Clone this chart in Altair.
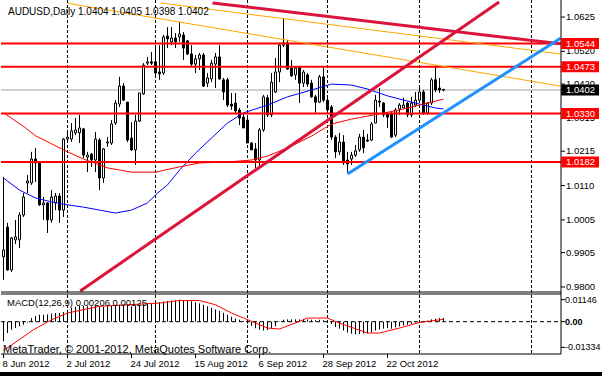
import altair as alt
import pandas as pd

FONT = "Liberation Sans"

# ---------------- price data (daily candles) ----------------
opens = [0.9892,0.9983,0.9852,0.9944,0.9944,1.0020,1.0118,1.0118,1.0191,1.0179,
         1.0051,1.0057,1.0005,1.0057,1.0078,1.0035,1.0252,1.0252,1.0271,1.0271,
         1.0283,1.0197,1.0206,1.0188,1.0249,1.0133,1.0240,1.0240,1.0301,1.0359,
         1.0414,1.0365,1.0255,1.0219,1.0307,1.0390,1.0484,1.0488,1.0488,1.0457,
         1.0454,1.0567,1.0549,1.0561,1.0564,1.0570,1.0552,1.0512,1.0481,1.0497,
         1.0509,1.0423,1.0436,1.0481,1.0503,1.0433,1.0433,1.0359,1.0362,1.0341,
         1.0319,1.0310,1.0240,1.0222,1.0188,1.0280,1.0378,1.0326,1.0396,1.0457,
         1.0539,1.0546,1.0469,1.0448,1.0472,1.0423,1.0448,1.0423,1.0381,1.0365,
         1.0442,1.0371,1.0350,1.0258,1.0213,1.0243,1.0188,1.0191,1.0203,1.0219,
         1.0258,1.0249,1.0249,1.0301,1.0368,1.0362,1.0329,1.0329,1.0264,1.0344,
         1.0347,1.0362,1.0326,1.0356,1.0371,1.0396,1.0332,1.0362,1.0433,1.0408,
         1.0404]
closes = [0.9913,0.9852,0.9950,0.9953,1.0020,1.0075,1.0124,1.0191,1.0179,1.0051,
          1.0057,1.0005,1.0075,1.0078,1.0035,1.0252,1.0258,1.0277,1.0280,1.0286,
          1.0203,1.0203,1.0188,1.0252,1.0133,1.0222,1.0243,1.0298,1.0362,1.0414,
          1.0371,1.0249,1.0219,1.0307,1.0393,1.0478,1.0488,1.0484,1.0454,1.0451,
          1.0564,1.0558,1.0561,1.0549,1.0573,1.0530,1.0512,1.0481,1.0497,1.0509,
          1.0414,1.0439,1.0484,1.0503,1.0436,1.0396,1.0356,1.0353,1.0338,1.0316,
          1.0286,1.0240,1.0219,1.0188,1.0280,1.0381,1.0326,1.0426,1.0457,1.0539,
          1.0546,1.0466,1.0445,1.0469,1.0423,1.0457,1.0420,1.0381,1.0365,1.0442,
          1.0371,1.0341,1.0258,1.0213,1.0243,1.0179,1.0176,1.0203,1.0216,1.0258,
          1.0225,1.0246,1.0298,1.0371,1.0365,1.0326,1.0319,1.0258,1.0341,1.0356,
          1.0356,1.0326,1.0362,1.0371,1.0396,1.0332,1.0362,1.0433,1.0402,1.0402,
          1.0402]
highs = [1.0136,0.9996,0.9953,1.0005,1.0029,1.0087,1.0142,1.0213,1.0225,1.0182,
         1.0075,1.0057,1.0096,1.0087,1.0087,1.0255,1.0280,1.0301,1.0316,1.0326,
         1.0286,1.0213,1.0209,1.0274,1.0255,1.0225,1.0258,1.0310,1.0371,1.0442,
         1.0423,1.0365,1.0304,1.0326,1.0393,1.0484,1.0503,1.0518,1.0533,1.0539,
         1.0570,1.0594,1.0594,1.0576,1.0610,1.0579,1.0555,1.0539,1.0509,1.0515,
         1.0515,1.0454,1.0494,1.0515,1.0539,1.0439,1.0439,1.0393,1.0393,1.0347,
         1.0332,1.0319,1.0243,1.0240,1.0286,1.0387,1.0387,1.0454,1.0500,1.0546,
         1.0622,1.0555,1.0494,1.0472,1.0472,1.0463,1.0454,1.0433,1.0387,1.0448,
         1.0469,1.0378,1.0356,1.0264,1.0271,1.0264,1.0213,1.0213,1.0234,1.0268,
         1.0280,1.0268,1.0304,1.0387,1.0408,1.0365,1.0335,1.0335,1.0347,1.0362,
         1.0378,1.0365,1.0381,1.0396,1.0417,1.0402,1.0365,1.0439,1.0478,1.0439,
         1.0405]
lows = [0.9822,0.9850,0.9846,0.9931,0.9919,1.0014,1.0087,1.0112,1.0121,1.0048,
        1.0005,0.9965,0.9996,1.0035,0.9996,1.0014,1.0249,1.0243,1.0264,1.0240,
        1.0194,1.0151,1.0167,1.0151,1.0096,1.0118,1.0228,1.0234,1.0295,1.0350,
        1.0368,1.0243,1.0216,1.0173,1.0304,1.0387,1.0478,1.0478,1.0442,1.0433,
        1.0448,1.0530,1.0539,1.0530,1.0549,1.0494,1.0509,1.0475,1.0454,1.0463,
        1.0411,1.0411,1.0426,1.0408,1.0433,1.0371,1.0350,1.0341,1.0332,1.0295,
        1.0286,1.0240,1.0219,1.0164,1.0164,1.0274,1.0319,1.0319,1.0393,1.0426,
        1.0533,1.0463,1.0442,1.0433,1.0362,1.0411,1.0411,1.0378,1.0332,1.0362,
        1.0365,1.0332,1.0249,1.0194,1.0203,1.0173,1.0148,1.0173,1.0197,1.0213,
        1.0209,1.0243,1.0246,1.0301,1.0350,1.0319,1.0286,1.0255,1.0258,1.0326,
        1.0347,1.0319,1.0319,1.0350,1.0365,1.0326,1.0326,1.0356,1.0396,1.0393,
        1.0398]

# moving averages (bar index, value)
blue_ma_x = [0,4,8,12,16,20,24,28,32,36,38.5,41,44,48,52,56,60,66,71,77,82,87,91,96,102,108,110]
blue_ma_v = [1.0133,1.0096,1.0072,1.0060,1.0051,1.0044,1.0035,1.0026,1.0035,1.0057,1.0087,1.0112,
             1.0157,1.0209,1.0255,1.0301,1.0332,1.0356,1.0381,1.0402,1.0420,1.0417,1.0405,1.0384,
             1.0365,1.0347,1.0344]
red_ma_x = [0,2,5.5,8,16,20,26,32,38,44,49,56,62,66,71,77,82,87,94,99,107,110]
red_ma_v = [1.0332,1.0316,1.0286,1.0262,1.0213,1.0191,1.0164,1.0151,1.0151,1.0167,1.0179,1.0182,
            1.0188,1.0200,1.0225,1.0261,1.0298,1.0313,1.0329,1.0341,1.0365,1.0374]

red_levels = [1.0544, 1.0473, 1.0330, 1.0182]
bid_level = 1.0402

trend_names = ["crimson_down", "orange_a", "orange_b", "crimson_up", "blue_up"]
trend_x0 = [52.25, 39.25, 16.0, 19.2, 86.0]
trend_y0 = [1.0668, 1.0668, 1.0667, 0.9788, 1.0145]
trend_x1 = [139.25, 139.25, 139.25, 123.9, 139.25]
trend_y1 = [1.0543, 1.0512, 1.0414, 1.0671, 1.0560]
trend_colors = ["#DC143C", "#FFA500", "#FFA500", "#DC143C", "#1E90FF"]
trend_widths = [3, 1, 1, 3, 3]

price_ticks = [0.9800, 0.9905, 1.0005, 1.0110, 1.0215, 1.0315, 1.0420, 1.0520, 1.0625]
box_levels = [1.0544, 1.0473, 1.0402, 1.0330, 1.0182]
box_colors = ["#FF0000", "#FF0000", "#000000", "#FF0000", "#FF0000"]

grid_bars = [16, 38, 61, 81, 104, 132]
date_pos = [0, 16, 32, 48, 64, 80, 96]
date_labels = ["8 Jun 2012", "2 Jul 2012", "24 Jul 2012", "15 Aug 2012",
               "6 Sep 2012", "28 Sep 2012", "22 Oct 2012"]

# ---------------- MACD ----------------
macd_hist = [-0.0102,-0.0059,-0.0042,-0.0033,-0.0024,-0.0016,-0.0004,0.0019,0.0030,0.0036,
             0.0036,0.0038,0.0042,0.0045,0.0045,0.0050,0.0062,0.0072,0.0078,0.0083,
             0.0083,0.0080,0.0080,0.0082,0.0078,0.0078,0.0080,0.0082,0.0085,0.0088,
             0.0088,0.0084,0.0080,0.0081,0.0085,0.0090,0.0094,0.0097,0.0099,0.0101,
             0.0105,0.0108,0.0110,0.0112,0.01146,0.0113,0.0110,0.0106,0.0101,0.0095,
             0.0088,0.0080,0.0072,0.0064,0.0056,0.0046,0.0036,0.0026,0.0016,0.0010,
             0.0004,-0.0010,-0.0022,-0.0034,-0.0042,-0.0046,-0.0044,-0.0036,-0.0024,0.0002,
             0.0010,0.0012,0.0012,0.0012,0.0012,0.0014,0.0012,0.0010,0.0008,0.0010,
             0.0008,0.0002,-0.0012,-0.0028,-0.0036,-0.0046,-0.0056,-0.0062,-0.0066,-0.0064,
             -0.0062,-0.0060,-0.0055,-0.0046,-0.0040,-0.0036,-0.0034,-0.0036,-0.0030,-0.0025,
             -0.0020,-0.0016,-0.0010,-0.0004,0.0002,0.0004,0.0006,0.0012,0.0016,0.0019,
             0.00206]
signal_x = [0, 7.5, 12, 16, 24, 39, 44, 49, 53, 57, 62, 66, 69, 74, 76, 81, 84, 91, 94, 99, 104, 110]
signal_v = [-0.0150, -0.0042, 0.0010, 0.0045, 0.0080, 0.0097, 0.0110, 0.0110, 0.0088, 0.0045, 0.0002,
            -0.0033, -0.0038, 0.0002, 0.0019, 0.0019, -0.0007, -0.0059, -0.0059, -0.0033, -0.0004, 0.00125]
macd_ticks = [0.01146, 0.0, -0.01334]
macd_tick_labels = ["0.01146", "0.00", "-0.01334"]

title_text = "AUDUSD,Daily  1.0404 1.0405 1.0398 1.0402"
macd_text = "MACD(12,26,9) 0.00206 0.00125"
copyright_text = "MetaTrader, \u00a9 2001-2012, MetaQuotes Software Corp."

# ---------------- geometry of the two panes (one plot, two y scales) ----------------
W, H = 560, 354                  # plot area: price pane 0-292, MACD pane 294-354
X_MIN, X_MAX = -0.625, 139.375   # 4 px per bar
PX_X = (X_MAX - X_MIN) / W
P_TOP, PX_P = 1.0677, 0.0003056  # price at top, price per pixel
P_BOT = P_TOP - H * PX_P
P_PANE_BOTTOM = P_TOP - 292 * PX_P
M_PANE_TOP, M_PANE_BOT = 0.0144, -0.0168     # MACD values at y=294 / y=354
PX_M = (M_PANE_TOP - M_PANE_BOT) / 60.0
M_TOP = M_PANE_TOP + 294 * PX_M

xs = alt.Scale(domain=[X_MIN, X_MAX], nice=False, zero=False)
ps = alt.Scale(domain=[P_BOT, P_TOP], nice=False, zero=False)
ms = alt.Scale(domain=[M_PANE_BOT, M_TOP], nice=False, zero=False)


def X(f):
    return alt.X(f, scale=xs, axis=None)


def P(f):
    return alt.Y(f, scale=ps, axis=None)


def M(f):
    return alt.Y(f, scale=ms, axis=None)


def label(text, x, y, size=10, **kw):
    return alt.Chart(pd.DataFrame({"t": [text]})).mark_text(
        align="left", baseline="alphabetic", font=FONT, fontSize=size, color="black", **kw).encode(
        x=alt.value(x), y=alt.value(y), text="t:N")


candles = pd.DataFrame({"i": list(range(len(opens))), "o": opens, "h": highs, "l": lows, "c": closes})
grid_df = pd.DataFrame({"g": grid_bars})

vgrid = alt.Chart(grid_df).mark_rule(color="black", strokeWidth=1, strokeDash=[3, 2]).encode(x=X("g:Q"))

bid = alt.Chart(pd.DataFrame({"v": [bid_level]})).mark_rule(color="#C0C0C0", strokeWidth=1.5).encode(
    y=P("v:Q"), x=alt.value(0), x2=alt.value(W))

wicks = alt.Chart(candles).mark_rule(color="black", strokeWidth=1).encode(x=X("i:Q"), y=P("l:Q"), y2="h:Q")

bodies = alt.Chart(candles).transform_calculate(
    x1="datum.i - 0.25", x2="datum.i + 0.25"
).mark_rect(stroke="black", strokeWidth=1).encode(
    x=X("x1:Q"), x2="x2:Q", y=P("o:Q"), y2="c:Q",
    fill=alt.condition("datum.c >= datum.o", alt.value("white"), alt.value("black")))

blue_ma = alt.Chart(pd.DataFrame({"x": blue_ma_x, "v": blue_ma_v})).mark_line(
    color="#0000FF", strokeWidth=1).encode(x=X("x:Q"), y=P("v:Q"))
red_ma = alt.Chart(pd.DataFrame({"x": red_ma_x, "v": red_ma_v})).mark_line(
    color="#FF0000", strokeWidth=1).encode(x=X("x:Q"), y=P("v:Q"))

hlines = alt.Chart(pd.DataFrame({"v": red_levels})).mark_rule(color="#FF0000", strokeWidth=2).encode(
    y=P("v:Q"), x=alt.value(0), x2=alt.value(W))

trend_rows = []
for n, a, b, c, d, col, w in zip(trend_names, trend_x0, trend_y0, trend_x1, trend_y1, trend_colors, trend_widths):
    trend_rows.append({"name": n, "x": a, "y": b, "col": col, "w": w, "k": 0})
    trend_rows.append({"name": n, "x": c, "y": d, "col": col, "w": w, "k": 1})
trends = alt.Chart(pd.DataFrame(trend_rows)).mark_line().encode(
    x=X("x:Q"), y=P("y:Q"), detail="name:N", order="k:Q",
    color=alt.Color("col:N", scale=None), strokeWidth=alt.StrokeWidth("w:Q", scale=None))

# frame: right axis line, bottom of price pane, top/bottom of MACD pane
axis_line = alt.Chart(pd.DataFrame({"a": [X_MAX]})).mark_rule(color="black", strokeWidth=1).encode(x=X("a:Q"))
price_bottom = alt.Chart(pd.DataFrame({"b": [P_PANE_BOTTOM]})).mark_rule(color="black", strokeWidth=1).encode(
    y=P("b:Q"), x=alt.value(0), x2=alt.value(W))
macd_frame = alt.Chart(pd.DataFrame({"b": [M_PANE_BOT, M_PANE_TOP]})).mark_rule(color="black", strokeWidth=1).encode(
    y=M("b:Q"), x=alt.value(0), x2=alt.value(W))

ptick_df = pd.DataFrame({"v": price_ticks}).assign(t0=X_MAX, t1=X_MAX + 4 * PX_X, tx=X_MAX + 5 * PX_X)
pticks = alt.Chart(ptick_df).mark_rule(color="black", strokeWidth=1).encode(x=X("t0:Q"), x2="t1:Q", y=P("v:Q"))
plabels = alt.Chart(ptick_df).transform_calculate(lab="format(datum.v, '.4f')").mark_text(
    align="left", baseline="middle", font=FONT, fontSize=9.5, color="black").encode(
    x=X("tx:Q"), y=P("v:Q"), text="lab:N")

box_df = pd.DataFrame({"v": box_levels, "col": box_colors}).assign(
    x1=X_MAX + 0.25 * PX_X, x2=X_MAX + 38 * PX_X, tx=X_MAX + 5 * PX_X)
boxes = alt.Chart(box_df).transform_calculate(
    y1="datum.v - %f" % (5.5 * PX_P), y2="datum.v + %f" % (5.5 * PX_P)
).mark_rect().encode(x=X("x1:Q"), x2="x2:Q", y=P("y1:Q"), y2="y2:Q", fill=alt.Color("col:N", scale=None))
box_text = alt.Chart(box_df).transform_calculate(lab="format(datum.v, '.4f')").mark_text(
    align="left", baseline="middle", color="white", font=FONT, fontSize=9.5).encode(
    x=X("tx:Q"), y=P("v:Q"), text="lab:N")

# MACD pane
zero = alt.Chart(pd.DataFrame({"z": [0.0]})).mark_rule(color="black", strokeWidth=1, strokeDash=[4, 3]).encode(
    y=M("z:Q"), x=alt.value(0), x2=alt.value(W))
hist = alt.Chart(pd.DataFrame({"i": list(range(len(macd_hist))), "h": macd_hist})).transform_calculate(
    z="0").mark_rule(color="black", strokeWidth=1).encode(x=X("i:Q"), y=M("h:Q"), y2="z:Q")
signal = alt.Chart(pd.DataFrame({"x": signal_x, "v": signal_v})).mark_line(
    color="#FF0000", strokeWidth=1).encode(x=X("x:Q"), y=M("v:Q"))

mtick_df = pd.DataFrame({"v": macd_ticks, "lab": macd_tick_labels}).assign(
    t0=X_MAX, t1=X_MAX + 4 * PX_X, tx=X_MAX + 4 * PX_X)
mticks = alt.Chart(mtick_df).mark_rule(color="black", strokeWidth=1).encode(x=X("t0:Q"), x2="t1:Q", y=M("v:Q"))
mlabels = alt.Chart(mtick_df).transform_filter("datum.v != 0").mark_text(
    align="left", baseline="middle", font=FONT, fontSize=9, color="black").encode(
    x=X("tx:Q"), y=M("v:Q"), text="lab:N")
mlabel_zero = alt.Chart(mtick_df).transform_filter("datum.v == 0").mark_text(
    align="left", baseline="middle", font=FONT, fontSize=9, fontWeight="bold", color="black").encode(
    x=X("tx:Q"), y=M("v:Q"), text="lab:N")

date_df = pd.DataFrame({"d": date_pos, "lab": date_labels}).assign(
    y0=M_PANE_BOT, y1=M_PANE_BOT - 4 * PX_M, ty=M_PANE_BOT - 4.5 * PX_M)
dticks = alt.Chart(date_df).mark_rule(color="black", strokeWidth=1).encode(x=X("d:Q"), y=M("y0:Q"), y2="y1:Q")
dlabels = alt.Chart(date_df).mark_text(
    align="left", baseline="top", font=FONT, fontSize=9.5, color="black", dx=-1).encode(
    x=X("d:Q"), y=M("ty:Q"), text="lab:N")

title = label(title_text, 7, 15, 10)
macd_label = label(macd_text, 6, 306, 9.5)
copy_label = label(copyright_text, 2, 353, 11)
band = alt.Chart(pd.DataFrame({"t": [0]})).mark_rect(color="black").encode(
    x=alt.value(-1), x2=alt.value(601), y=alt.value(372), y2=alt.value(376))

chart = alt.layer(
    vgrid, bid, wicks, bodies, blue_ma, red_ma, hlines, trends,
    zero, hist, signal,
    axis_line, price_bottom, macd_frame, pticks, plabels, boxes, box_text,
    mticks, mlabels, mlabel_zero, dticks, dlabels, title, macd_label, copy_label, band
).resolve_scale(y="independent").properties(
    width=W, height=H,
    autosize=alt.AutoSizeParams(type="none"),
    padding={"left": 1, "top": 0, "right": 41, "bottom": 22}
).configure_view(stroke=None)

chart.save("out.html", embed_options={"renderer": "svg", "actions": False})
